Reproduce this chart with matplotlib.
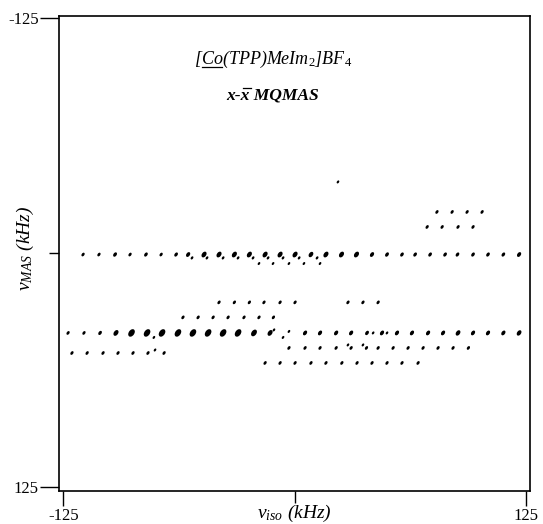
import numpy as np
import matplotlib
matplotlib.use("Agg")
import matplotlib.pyplot as plt
from matplotlib.path import Path
from matplotlib.transforms import Affine2D
from matplotlib.lines import Line2D

plt.rcParams['font.family'] = ['Liberation Serif', 'DejaVu Serif']
plt.rcParams['mathtext.fontset'] = 'custom'
plt.rcParams['mathtext.rm'] = 'Liberation Serif'
plt.rcParams['mathtext.it'] = 'Liberation Serif:italic'
plt.rcParams['mathtext.bf'] = 'Liberation Serif:bold'

# ---------------- data (kHz) ----------------
# row A (nu_MAS ~ 1)
iso_A = [-114.4, -105.8, -97.1, -89.0, -80.4, -72.2, -64.1, -57.6, -49.0, -40.9,
         -32.6, -24.5, -16.0, -7.9, 0.2, 8.8, 16.9, 25.3, 33.4, 41.8,
         49.9, 58.0, 65.1, 73.2, 81.3, 88.0, 96.4, 104.5, 112.8, 121.3]
int_A = [1.0, 1.0, 1.3, 1.0, 1.2, 1.0, 1.2, 1.5, 2.0, 2.0,
         2.0, 2.0, 2.0, 2.0, 2.0, 1.8, 2.0, 2.0, 2.0, 1.5,
         1.3, 1.2, 1.2, 1.2, 1.2, 1.2, 1.2, 1.2, 1.2, 1.5]
mas_A = 1.0
iso_A2 = [-55.5, -47.4, -38.7, -30.6, -22.5, -14.4, -6.3, 2.4, 12.1]
mas_A2 = 2.8
iso_A3 = [-19.3, -11.7, -3.1, 5.0, 13.7]
mas_A3 = 5.8
iso_B = [-40.9, -32.6, -24.5, -16.6, -7.9, 0.2, 28.8, 36.9, 45.1]
mas_B = 26.5
iso_C = [-60.4, -52.2, -44.1, -36.0, -27.4, -19.3, -11.5]
mas_C = 34.5
iso_D = [-122.5, -113.9, -105.2, -96.6, -88.2, -79.8, -71.7, -63.1, -55.0, -46.8,
         -38.7, -30.6, -22.0, -13.3, 5.6, 13.7, 22.4, 30.5, 39.1, 47.2,
         55.3, 63.4, 72.1, 80.2, 88.3, 96.4, 104.5, 112.8, 121.3]
int_D = [1.0, 1.0, 1.2, 2.0, 3.0, 3.0, 3.0, 3.0, 3.0, 3.0,
         3.0, 3.0, 2.5, 2.0, 1.5, 1.5, 1.5, 1.5, 1.3, 1.5,
         1.5, 1.5, 1.5, 1.5, 1.8, 1.5, 1.5, 1.5, 1.8]
mas_D = 42.8
iso_E1 = [-120.4, -112.2, -103.6, -95.5, -87.4, -79.3, -70.6]
mas_E1 = 53.5
iso_E2 = [-3.1, 5.6, 13.7, 22.4, 30.5, 38.8, 45.1, 53.2, 61.3, 69.4, 77.5, 85.6, 93.9]
mas_E2 = 50.8
iso_F = [-16.0, -7.9, 0.2, 8.8, 16.9, 25.5, 33.7, 41.8, 49.9, 58.0, 66.7]
mas_F = 58.8
iso_G = [76.9, 85.1, 93.2, 101.3]
mas_G = -21.7
iso_H = [71.6, 79.7, 88.3, 96.4]
mas_H = -13.7
iso_X = [-76.1, -11.2, -6.3, -3.1, 42.4, 49.9, -75.5, 28.8, 36.9, 23.4]
mas_X = [45.2, 41.2, 45.2, 42.0, 42.8, 42.8, 51.9, 49.2, 49.2, -37.7]

ticks = [-125, 0, 125]
tick_labels = ['-125', '', '125']

# ---------------- figure ----------------
W, H = 543, 524
fig = plt.figure(figsize=(W / 100, H / 100), dpi=100)
ax = fig.add_axes([59 / W, 1 - 490.5 / H, (530 - 59) / W, (490.5 - 16.3) / H])
ax.set_xlim(-127.4, 127.2)
ax.set_ylim(126.8, -126.0)

ell = Path.unit_circle().transformed(Affine2D().scale(0.8, 1.2).rotate_deg(-35))


def draw(iso, mas, inten=None, base=7.5):
    iso = np.asarray(iso, float)
    if np.ndim(mas) == 0:
        mas = np.full(iso.shape, mas, float)
    if inten is None:
        inten = np.ones(iso.shape)
    s = base * np.asarray(inten, float) ** 1.3
    ax.scatter(iso, mas, s=s, marker=ell, c='black', linewidths=0)


draw(iso_A, mas_A, int_A)
draw(iso_A2, mas_A2, None, base=5.5)
draw(iso_A3, mas_A3, None, base=5.0)
draw(iso_B, mas_B)
draw(iso_C, mas_C)
draw(iso_D, mas_D, int_D)
draw(iso_E1, mas_E1)
draw(iso_E2, mas_E2)
draw(iso_F, mas_F)
draw(iso_G, mas_G)
draw(iso_H, mas_H)
draw(iso_X, mas_X, None, base=5.0)

for sp in ax.spines.values():
    sp.set_linewidth(1.2)
ax.set_xticks(ticks)
ax.set_xticklabels(tick_labels)
ax.set_yticks(ticks)
ax.set_yticklabels(tick_labels)
ax.tick_params(axis='x', direction='out', length=10.8, width=1.0, labelsize=12, pad=1.5)
ax.tick_params(axis='y', direction='out', length=13.7, width=1.0, labelsize=12, pad=1.0)
ax.xaxis.get_major_ticks()[1].tick1line.set_markersize(8.6)
ax.yaxis.get_major_ticks()[1].tick1line.set_markersize(7.5)

ax.set_xlabel(r'ν$_{iso}$ (kHz)', fontsize=14, fontstyle='italic', labelpad=-15)
fig.text(25 / W, 1 - 248 / H, r'ν$_{MAS}$ (kHz)', fontsize=14, fontstyle='italic',
         rotation=90, ha='center', va='center')

# titles
fs1 = 13
fs2 = 12.6
cx = 273 / W
y1 = 1 - 64 / H
y2 = 1 - 99 / H
t1 = fig.text(cx, y1, r'[Co(TPP)MeIm$_2$]BF$_4$', ha='center', va='baseline',
              fontsize=fs1, fontstyle='italic')
t2 = fig.text(cx, y2, 'x-x MQMAS', ha='center', va='baseline',
              fontsize=fs2, fontstyle='italic', fontweight='bold')

fig.canvas.draw()
r = fig.canvas.get_renderer()


def width_of(s, **kw):
    t = fig.text(0, 0, s, **kw)
    w = t.get_window_extent(r).width
    t.remove()
    return w


bb1 = t1.get_window_extent(r)
wa = width_of('[', fontsize=fs1, fontstyle='italic')
wb = width_of('[Co', fontsize=fs1, fontstyle='italic')
base1 = y1 * H
fig.add_artist(Line2D([bb1.x0 + wa + 1, bb1.x0 + wb], [base1 - 2.5, base1 - 2.5],
                      transform=None, color='black', lw=0.9))

bb2 = t2.get_window_extent(r)
wc = width_of('x-', fontsize=fs2, fontstyle='italic', fontweight='bold')
wd = width_of('x-x', fontsize=fs2, fontstyle='italic', fontweight='bold')
base2 = y2 * H
oy = base2 + fs2 * 100 / 72 * 0.5 + 2.5
fig.add_artist(Line2D([bb2.x0 + wc + 1.5, bb2.x0 + wd + 0.5], [oy, oy],
                      transform=None, color='black', lw=0.9))

fig.savefig('out.png', dpi=100)
